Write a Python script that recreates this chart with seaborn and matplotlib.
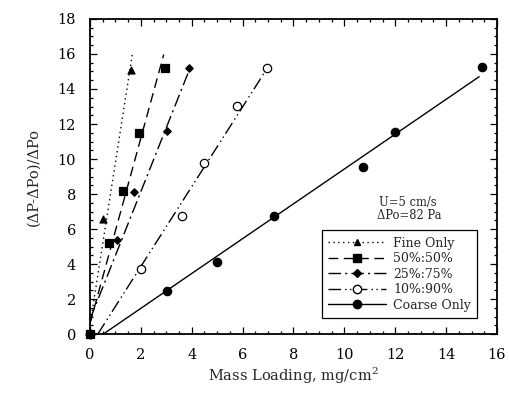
import numpy as np
import pandas as pd
import matplotlib
matplotlib.use("Agg")
import matplotlib.pyplot as plt
from matplotlib.lines import Line2D
from matplotlib.ticker import MultipleLocator
import seaborn as sns

# ---- data ----
series_names = ["Fine Only", "50%:50%", "25%:75%", "10%:90%", "Coarse Only"]

fine_x = [0, 0.50, 1.61]
fine_y = [0, 6.6, 15.1]
mix50_x = [0, 0.73, 1.31, 1.93, 2.93]
mix50_y = [0, 5.2, 8.2, 11.5, 15.2]
mix25_x = [0, 1.05, 1.73, 3.02, 3.91]
mix25_y = [0, 5.35, 8.1, 11.6, 15.2]
mix10_x = [0, 2.02, 3.61, 4.50, 5.77, 6.95]
mix10_y = [0, 3.7, 6.75, 9.8, 13.05, 15.2]
coarse_x = [0, 3.02, 5.01, 7.25, 10.74, 12.0, 15.42]
coarse_y = [0, 2.48, 4.09, 6.72, 9.54, 11.57, 15.23]

# fitted lines: slope, intercept, x start, x end
fit_slope = [9.3, 5.3, 3.65, 2.28, 0.995]
fit_intercept = [0.5, 0.6, 0.84, -0.70, -0.52]
fit_x0 = [0.0, 0.0, 0.0, 0.31, 0.52]
fit_x1 = [1.67, 2.90, 3.93, 7.00, 15.30]

xs = [fine_x, mix50_x, mix25_x, mix10_x, coarse_x]
ys = [fine_y, mix50_y, mix25_y, mix10_y, coarse_y]

# ---- styles ----
markers = ["^", "s", "D", "o", "o"]
msizes = [5, 5.2, 3.8, 6, 6]
mface = ["black", "black", "black", "white", "black"]
dashes = [(1, 2.5), (7, 4), (9, 3, 1.5, 3), (9, 3, 1, 2.5, 1, 2.5), ()]

sns.set_style("ticks")
plt.rcParams["font.family"] = ["DejaVu Serif"]
plt.rcParams["mathtext.fontset"] = "dejavuserif"

fig = plt.figure(figsize=(5.09, 3.93), dpi=100)
ax = fig.add_axes([0.1768, 0.150, 0.7996, 0.8017])

for i, name in enumerate(series_names):
    lx = np.array([fit_x0[i], fit_x1[i]])
    ly = fit_slope[i] * lx + fit_intercept[i]
    ldf = pd.DataFrame({"x": lx, "y": ly})
    ls = (0, dashes[i]) if dashes[i] else "-"
    sns.lineplot(data=ldf, x="x", y="y", ax=ax, color="black", lw=1.0,
                 linestyle=ls, legend=False)
    pdf = pd.DataFrame({"x": xs[i], "y": ys[i]})
    sns.scatterplot(data=pdf, x="x", y="y", ax=ax, marker=markers[i],
                    s=msizes[i] ** 2, color=mface[i], edgecolor="black",
                    linewidth=0.9, legend=False, zorder=5, clip_on=False)

ax.set_xlim(0, 16)
ax.set_ylim(0, 18)
ax.xaxis.set_major_locator(MultipleLocator(2))
ax.yaxis.set_major_locator(MultipleLocator(2))
ax.xaxis.set_minor_locator(MultipleLocator(0.5))
ax.yaxis.set_minor_locator(MultipleLocator(0.5))
ax.tick_params(which="both", direction="in", top=True, right=True,
               labelsize=10.5, width=0.9, colors="black")
ax.tick_params(which="major", length=5)
ax.tick_params(which="minor", length=2.5)
ax.tick_params(axis="x", which="major", pad=10)
ax.tick_params(axis="y", which="major", pad=10)
for sp in ax.spines.values():
    sp.set_linewidth(1.3)
    sp.set_color("black")

ax.set_xlabel("Mass Loading, mg/cm$^2$", fontsize=10.5, labelpad=3)
ax.set_ylabel("(\u0394P-\u0394Po)/\u0394Po", fontsize=10.5, labelpad=12)

ax.text(12.5, 7.5, "U=5 cm/s", fontsize=8.3, ha="center", va="center")
ax.text(12.55, 6.8, "\u0394Po=82 Pa", fontsize=8.3, ha="center", va="center")

handles = []
for i, name in enumerate(series_names):
    ls = (0, dashes[i]) if dashes[i] else "-"
    handles.append(Line2D([0], [0], color="black", lw=1.0, linestyle=ls,
                          marker=markers[i], markersize=msizes[i],
                          markerfacecolor=mface[i], markeredgecolor="black",
                          label=name))
leg = ax.legend(handles=handles, loc="lower right", bbox_to_anchor=(0.952, 0.051),
                borderaxespad=0, fontsize=9, frameon=True, fancybox=False,
                edgecolor="black", handlelength=4.6, handletextpad=0.6,
                borderpad=0.5, labelspacing=0.2, framealpha=1)
leg.get_frame().set_linewidth(0.9)

fig.savefig("out.png", dpi=100)
